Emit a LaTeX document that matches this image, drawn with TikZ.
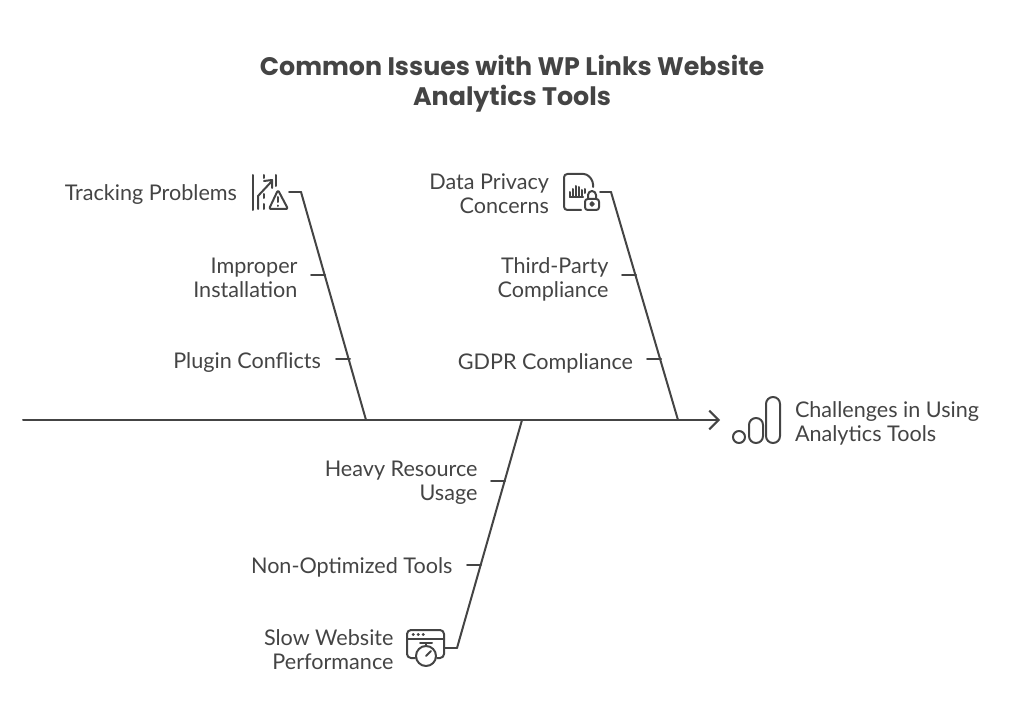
\documentclass[tikz,border=0pt]{standalone}
\usepackage{fontspec}
\setmainfont{Lato}
\newfontfamily\titlefont{Poppins}
\usetikzlibrary{arrows.meta}
\usetikzlibrary{positioning}
\definecolor{ink}{HTML}{444444}
\begin{document}
\begin{tikzpicture}[x=0.75pt,y=-0.75pt,>={Straight Barb[length=7pt,width=14pt,line width=1.5pt]},
					line width=1.5pt,draw=ink,text=ink,line cap=round,line join=round]
					\tikzstyle{every node}=[inner sep=0pt]
					\tikzstyle{label_l}=[anchor=east,align=right,font=\fontsize{16.2}{18}\selectfont]
					\tikzstyle{label_r}=[anchor=west,align=left,font=\fontsize{16.2}{18}\selectfont]
					\tikzstyle{heading}=[align=center,font=\titlefont\bfseries\fontsize{19}{22.5}\selectfont]
					\tikzstyle{icon}=[line width=1.5pt]
					
					\useasboundingbox (0,0) rectangle (1020,720);
					
					\node[heading] (title) at (512,83.5) {Common Issues with WP Links Website\\Analytics Tools};
					
					% spine
					\coordinate (tail) at (23,420);
					\coordinate (head) at (720,420);
					\coordinate (foot_1) at (366,420);
					\coordinate (foot_2) at (678,420);
					\coordinate (foot_3) at (522,420);
					\node[label_r] (effect) at (794,423) {Challenges in Using\\Analytics Tools};
					
					% upper left
					\node[label_l] (track) at (238,195) {Tracking Problems};
					\node[label_l] (install) at (298.5,278) {Improper\\Installation};
					\node[label_l] (plugin) at (322,363) {Plugin Conflicts};
					\coordinate (end_1) at (289,192);
					\coordinate (top_1) at (301,192);
					\coordinate (a_1) at (311,275);
					\coordinate (b_1) at (325,275);
					\coordinate (a_2) at (336,359);
					\coordinate (b_2) at (350,359);
					
					% upper right
					\node[label_l] (privacy) at (550,194) {Data Privacy\\Concerns};
					\node[label_l] (third) at (609.5,279) {Third-Party\\Compliance};
					\node[label_l] (gdpr) at (634,363) {GDPR Compliance};
					\coordinate (end_2) at (600,192);
					\coordinate (top_2) at (611,192);
					\coordinate (a_3) at (622,275);
					\coordinate (b_3) at (636,275);
					\coordinate (a_4) at (647,359);
					\coordinate (b_4) at (661,359);
					
					% lower
					\node[label_l] (heavy) at (478.5,483) {Heavy Resource\\Usage};
					\node[label_l] (nonopt) at (453.5,567) {Non-Optimized Tools};
					\node[label_l] (slow) at (394.5,650) {Slow Website\\Performance};
					\coordinate (end_3) at (445,648);
					\coordinate (top_3) at (457,648);
					\coordinate (a_5) at (491,481);
					\coordinate (b_5) at (505,481);
					\coordinate (a_6) at (467,565);
					\coordinate (b_6) at (481,565);
					
					\path[draw] (tail) edge[->] (head)
					(end_1) edge (top_1)
					(top_1) edge (foot_1)
					(a_1) edge (b_1)
					(a_2) edge (b_2)
					(end_2) edge (top_2)
					(top_2) edge (foot_2)
					(a_3) edge (b_3)
					(a_4) edge (b_4)
					(end_3) edge (top_3)
					(top_3) edge (foot_3)
					(a_5) edge (b_5)
					(a_6) edge (b_6)
					;
					
					% icon: tracking
					\draw[icon] (253,175) -- (253,210);
					\draw[icon] (258,209) -- (258,196) -- (272,181);
					\draw[icon] (264,181) -- (272,180) -- (272,188);
					\draw[icon] (264,175) -- (264,178) (264,194) -- (264,198) (264,204) -- (264,209);
					\draw[icon] (276,175) -- (276,186);
					\draw[icon,rounded corners=1.5pt] (269,209) -- (278,190) -- (288,209) -- cycle;
					\draw[icon] (278,197) -- (278,202) (278,205.5) -- (278,206);
					
					% icon: privacy
					\draw[icon,rounded corners=2.5pt] (581,210) -- (564,210) -- (564,174) -- (587,174) -- (593,181) -- (593,187);
					\draw[icon] (570,197) -- (570,192) (573,197) -- (573,189) (576,197) -- (576,186) (579,197) -- (579,187) (582,197) -- (582,190) (585,193) -- (585,189);
					\draw[icon] (570,197) -- (583,197);
					\draw[icon,rounded corners=2pt] (585,199) rectangle (599,210);
					\draw[icon] (588,199) -- (588,195) arc[start angle=180,end angle=0,x radius=4,y radius=-4] -- (596,199);
					\draw[icon] (592,204) circle[radius=1.8];
					
					% icon: performance
					\draw[icon,rounded corners=3pt] (415,658) -- (407,658) -- (407,630) -- (444,630) -- (444,658) -- (437,658);
					\draw[icon] (407,639) -- (444,639);
					\draw[icon,line width=2pt] (413,634.5) -- (413.5,634.5) (418,634.5) -- (418.5,634.5) (423,634.5) -- (423.5,634.5);
					\draw[icon] (426,656) circle[radius=10];
					\draw[icon] (420,643) -- (432,643) (426,643) -- (426,646);
					\draw[icon] (426,656) -- (431,651);
					
					% icon: analytics
					\draw[icon] (739,437) circle[radius=6];
					\draw[icon,rounded corners=5.2pt] (749,418) rectangle (763,443);
					\draw[icon,rounded corners=5.2pt] (766,397) rectangle (780,443);
					\end{tikzpicture}
\end{document}
